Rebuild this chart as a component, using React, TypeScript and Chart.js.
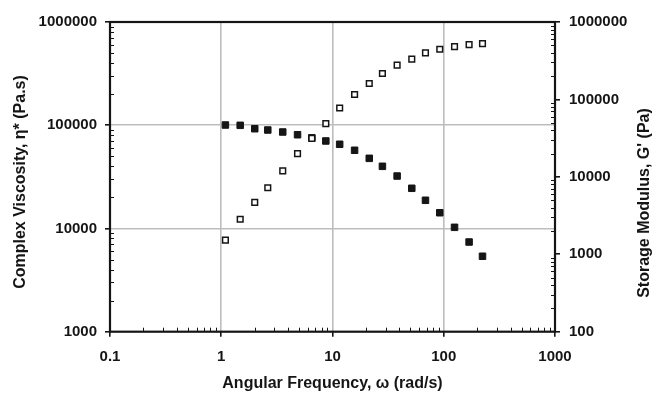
import React, { useEffect, useRef } from 'react';
import { Chart, registerables } from 'chart.js';

Chart.register(...registerables);

// ---- data ----
const omega = [1.09, 1.48, 2.0, 2.62, 3.57, 4.85, 6.52, 8.71, 11.6, 15.8, 21.4, 28.1, 38.1, 51.6, 68.5, 92.1, 125, 169, 223];
const etaStar = [100500, 99800, 92500, 89900, 86000, 80900, 75500, 70400, 65400, 57200, 47800, 40000, 32200, 24500, 18750, 14200, 10260, 7390, 5380];
const gPrime = [1520, 2830, 4680, 7230, 11960, 19980, 31450, 48630, 77430, 115900, 160600, 216000, 277100, 331000, 399000, 445200, 480800, 510200, 525700];

const xRange = [0.1, 1000];
const yLeftRange = [1000, 1000000];
const yRightRange = [100, 1000000];

const xTitle = 'Angular Frequency, ω (rad/s)';
const yLeftTitle = 'Complex Viscosity, η* (Pa.s)';
const yRightTitle = "Storage Modulus, G' (Pa)";

const FONT = '"Liberation Sans", Arial, Helvetica, sans-serif';
const INK = '#151515';
const GRID = '#bdbdbd';

function logTicks(min: number, max: number) {
  const out: { value: number }[] = [];
  const e0 = Math.round(Math.log10(min));
  const e1 = Math.round(Math.log10(max));
  for (let e = e0; e <= e1; e++) {
    for (let k = 1; k <= 9; k++) {
      if (e === e1 && k > 1) break;
      out.push({ value: Number((k * Math.pow(10, e)).toPrecision(12)) });
    }
  }
  return out;
}

const isMajor = (v: number) => Math.abs(Math.log10(v) - Math.round(Math.log10(v))) < 1e-9;

function makeAxis(range: number[], position: string, opts: any) {
  const [min, max] = range;
  return {
    type: 'logarithmic',
    position,
    min,
    max,
    afterBuildTicks: (s: any) => {
      s.ticks = logTicks(min, max);
    },
    afterFit: opts.afterFit,
    ticks: {
      autoSkip: false,
      maxRotation: 0,
      minRotation: 0,
      padding: opts.padding,
      color: INK,
      font: { family: FONT, size: 15, weight: 'bold' },
      callback: (v: number) => (isMajor(v) ? String(v) : ''),
    },
    grid: {
      drawOnChartArea: opts.drawGrid,
      color: (ctx: any) => {
        const v = ctx.tick ? ctx.tick.value : NaN;
        if (!isMajor(v) || v <= min || v >= max) return 'rgba(0,0,0,0)';
        return GRID;
      },
      lineWidth: 1.6,
      tickLength: 5,
      tickWidth: 1.6,
      tickColor: (ctx: any) => (ctx.tick && isMajor(ctx.tick.value) ? INK : 'rgba(0,0,0,0)'),
    },
    border: { display: false },
    title: opts.title || { display: false },
  };
}

const framePlugin = {
  id: 'frame',
  beforeDatasetsDraw(chart: any) {
    const { ctx, chartArea: a, scales } = chart;
    ctx.save();
    ctx.strokeStyle = INK;
    ctx.lineWidth = 1;
    ctx.beginPath();
    const L = 4;
    for (const t of scales.x.ticks) {
      if (isMajor(t.value)) continue;
      const p = Math.round(scales.x.getPixelForValue(t.value)) + 0.5;
      ctx.moveTo(p, a.bottom);
      ctx.lineTo(p, a.bottom - L);
    }
    for (const t of scales.y.ticks) {
      if (isMajor(t.value)) continue;
      const p = Math.round(scales.y.getPixelForValue(t.value)) + 0.5;
      ctx.moveTo(a.left, p);
      ctx.lineTo(a.left + L, p);
    }
    for (const t of scales.y2.ticks) {
      if (isMajor(t.value)) continue;
      const p = Math.round(scales.y2.getPixelForValue(t.value)) + 0.5;
      ctx.moveTo(a.right, p);
      ctx.lineTo(a.right - L, p);
    }
    ctx.stroke();
    ctx.lineWidth = 2.2;
    ctx.strokeRect(a.left, a.top, a.right - a.left, a.bottom - a.top);
    ctx.restore();
  },
  afterDraw(chart: any) {
    const { ctx } = chart;
    ctx.save();
    ctx.fillStyle = INK;
    ctx.font = `bold 16px ${FONT}`;
    ctx.textAlign = 'center';
    ctx.textBaseline = 'middle';
    ctx.save();
    ctx.translate(21, 182);
    ctx.rotate(-Math.PI / 2);
    ctx.fillText(yLeftTitle, 0, 0);
    ctx.restore();
    ctx.save();
    ctx.translate(645, 203);
    ctx.rotate(-Math.PI / 2);
    ctx.fillText(yRightTitle, 0, 0);
    ctx.restore();
    ctx.restore();
  },
};

export default function App() {
  const ref = useRef<HTMLCanvasElement | null>(null);

  useEffect(() => {
    if (!ref.current) return;
    const chart = new Chart(ref.current, {
      type: 'scatter',
      data: {
        datasets: [
          {
            label: yRightTitle,
            data: omega.map((x, i) => ({ x, y: gPrime[i] })),
            yAxisID: 'y2',
            pointStyle: 'rect',
            pointRadius: 4.0,
            pointBackgroundColor: '#ffffff',
            pointBorderColor: INK,
            pointBorderWidth: 1.5,
            showLine: false,
          },
          {
            label: yLeftTitle,
            data: omega.map((x, i) => ({ x, y: etaStar[i] })),
            yAxisID: 'y',
            pointStyle: 'rect',
            pointRadius: 4.6,
            pointBackgroundColor: INK,
            pointBorderColor: INK,
            pointBorderWidth: 1,
            showLine: false,
          },
        ],
      },
      options: {
        responsive: false,
        animation: false,
        layout: { padding: { top: 22, left: 0, right: 0, bottom: 0 } },
        plugins: {
          legend: { display: false },
          tooltip: { enabled: false },
        },
        scales: {
          x: makeAxis(xRange, 'bottom', {
            padding: 11,
            drawGrid: true,
            afterFit: (s: any) => {
              s.height = 61.3;
            },
            title: {
              display: true,
              text: xTitle,
              color: INK,
              font: { family: FONT, size: 16, weight: 'bold' },
              padding: { top: 0, bottom: 0 },
            },
          }),
          y: makeAxis(yLeftRange, 'left', {
            padding: 8,
            drawGrid: true,
            afterFit: (s: any) => {
              s.width = 110;
            },
          }),
          y2: makeAxis(yRightRange, 'right', {
            padding: 9,
            drawGrid: false,
            afterFit: (s: any) => {
              s.width = 98;
            },
          }),
        },
      } as any,
      plugins: [framePlugin],
    });
    return () => chart.destroy();
  }, []);

  return (
    <div style={{ position: 'absolute', left: 0, top: 0, width: 653, height: 393, background: '#ffffff' }}>
      <canvas ref={ref} width={653} height={393} />
    </div>
  );
}
